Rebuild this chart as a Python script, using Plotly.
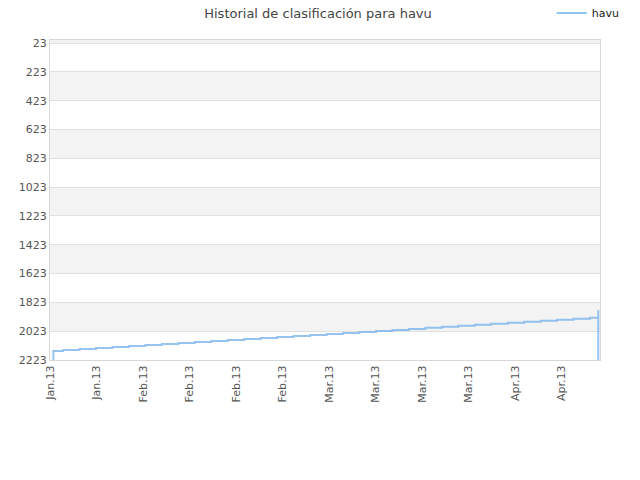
import plotly.graph_objects as go

# rank history for havu (lower number = better rank)
dates = [
    "2013-01-16 14:00", "2013-01-16 14:00",
    "2013-01-18 06:00", "2013-01-21 02:00", "2013-01-23 22:00", "2013-01-26 18:00",
    "2013-01-29 14:00", "2013-02-01 10:00", "2013-02-04 06:00", "2013-02-07 02:00",
    "2013-02-09 22:00", "2013-02-12 18:00", "2013-02-15 14:00", "2013-02-18 10:00",
    "2013-02-21 06:00", "2013-02-24 02:00", "2013-02-26 22:00", "2013-03-01 18:00",
    "2013-03-04 14:00", "2013-03-07 10:00", "2013-03-10 06:00", "2013-03-13 02:00",
    "2013-03-15 22:00", "2013-03-18 18:00", "2013-03-21 14:00", "2013-03-24 10:00",
    "2013-03-27 06:00", "2013-03-30 02:00", "2013-04-01 22:00", "2013-04-04 18:00",
    "2013-04-07 14:00", "2013-04-10 10:00", "2013-04-13 06:00", "2013-04-16 02:00",
    "2013-04-18 22:00", "2013-04-20 08:00", "2013-04-20 08:00",
]
ranks = [
    2223, 2161,
    2154, 2147, 2140, 2133,
    2126, 2119, 2112, 2105,
    2098, 2091, 2084, 2077,
    2070, 2063, 2056, 2049,
    2042, 2035, 2028, 2021,
    2014, 2007, 2000, 1993,
    1986, 1979, 1972, 1965,
    1958, 1951, 1944, 1937,
    1930, 1877, 2223,
]

y_ticks = [23, 223, 423, 623, 823, 1023, 1223, 1423, 1623, 1823, 2023, 2223]
y_range = [2223, 2]
x_range = ["2013-01-16 00:00", "2013-04-20 15:00"]

fig = go.Figure()
fig.add_trace(go.Scatter(
    x=dates, y=ranks, name="havu", mode="lines",
    line=dict(color="#7cb5ec", width=2, shape="hv"),
    opacity=0.8,
))

# alternating grey bands between ticks
band_edges = [y_range[1]] + y_ticks
for i in range(len(band_edges) - 1):
    if i % 2 == 0:
        fig.add_shape(type="rect", xref="paper", yref="y", layer="below",
                      x0=0, x1=1, y0=band_edges[i], y1=band_edges[i + 1],
                      fillcolor="#f3f3f3", line_width=0)

fig.update_layout(
    width=640, height=480,
    margin=dict(l=50, r=40, t=40, b=120, autoexpand=False),
    paper_bgcolor="white", plot_bgcolor="white",
    font=dict(family="DejaVu Sans", size=11, color="#555"),
    title=dict(text="Historial de clasificación para havu", x=318 / 640, xref="container",
               y=1 - 13 / 480, yanchor="middle",
               font=dict(size=13, color="#444")),
    legend=dict(x=1.045, xanchor="right", y=1.084, yanchor="middle",
                font=dict(size=11, color="#222"), bgcolor="rgba(0,0,0,0)",
                itemwidth=30),
    showlegend=True,
)
fig.update_xaxes(
    type="date", range=x_range,
    tick0="2013-01-16", dtick=8 * 86400000, tickformat="%b.%y",
    tickangle=-90, showgrid=False, showline=True, linecolor="#d8d8d8",
    mirror=True, ticks="", zeroline=False,
)
fig.update_yaxes(
    range=y_range, tickvals=y_ticks, showgrid=True, gridcolor="#e0e0e0",
    showline=True, linecolor="#d8d8d8", mirror=True, zeroline=False, ticks="",
)

# drop the default body margin so the figure fills the window
fig.write_html("out.html", config={"displayModeBar": False},
               post_script="document.body.style.margin='0';")
